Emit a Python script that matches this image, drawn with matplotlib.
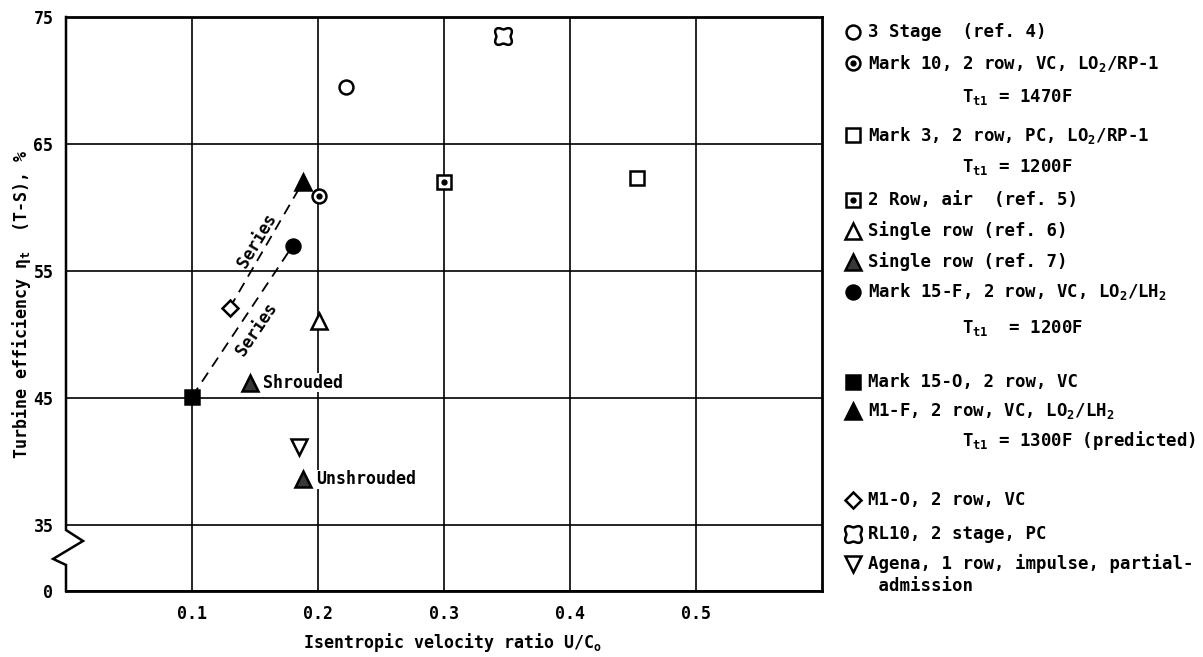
import numpy as np
import matplotlib.pyplot as plt
from matplotlib.path import Path

plt.rcParams['font.family'] = ['DejaVu Sans Mono', 'DejaVu Sans']
plt.rcParams['font.weight'] = 'bold'
plt.rcParams['mathtext.default'] = 'regular'
plt.rcParams['font.size'] = 12

# turbine test points: velocity ratio U/Co and efficiency (T-S), percent
three_stage_x = [0.222]
three_stage_y = [69.5]
mark10_x = [0.201]
mark10_y = [60.9]
mark3_x = [0.453]
mark3_y = [62.3]
two_row_air_x = [0.300]
two_row_air_y = [62.0]
single_row6_x = [0.201]
single_row6_y = [51.1]
single_row7_x = [0.146, 0.188]
single_row7_y = [46.2, 38.6]
single_row7_notes = ['Shrouded', 'Unshrouded']
mark15f_x = [0.180]
mark15f_y = [57.0]
mark15o_x = [0.100]
mark15o_y = [45.1]
m1f_x = [0.188]
m1f_y = [62.0]
m1o_x = [0.130]
m1o_y = [52.1]
rl10_x = [0.347]
rl10_y = [73.5]
agena_x = [0.185]
agena_y = [41.1]

x_ticks = [0.1, 0.2, 0.3, 0.4, 0.5]
y_ticks = [0, 35, 45, 55, 65, 75]

# scalloped marker used for the RL10 point
th = np.linspace(0, 2 * np.pi, 121)
r = 0.84 - 0.16 * np.cos(4 * th)
clover = Path(np.column_stack([r * np.cos(th), r * np.sin(th)]), closed=True)

styles = {
    'three_stage': dict(marker='o', ms=10, mfc='white', dot=False),
    'mark10': dict(marker='o', ms=10, mfc='white', dot=True),
    'mark3': dict(marker='s', ms=10, mfc='white', dot=False),
    'two_row_air': dict(marker='s', ms=10, mfc='white', dot=True),
    'single_row6': dict(marker='^', ms=11, mfc='white', dot=False),
    'single_row7': dict(marker='^', ms=11, mfc='#383838', dot=False),
    'mark15f': dict(marker='o', ms=10, mfc='black', dot=False),
    'mark15o': dict(marker='s', ms=10, mfc='black', dot=False),
    'm1f': dict(marker='^', ms=12, mfc='black', dot=False),
    'm1o': dict(marker='D', ms=8.5, mfc='white', dot=False),
    'rl10': dict(marker=clover, ms=12, mfc='white', dot=False),
    'agena': dict(marker='v', ms=11, mfc='white', dot=False),
}


def draw_points(axis, xs, ys, key):
    st = styles[key]
    axis.plot(xs, ys, ls='none', marker=st['marker'], ms=st['ms'],
              mfc=st['mfc'], mec='black', mew=1.8, zorder=5, clip_on=False)
    if st['dot']:
        axis.plot(xs, ys, ls='none', marker='o', ms=3.5, mfc='black',
                  mec='black', zorder=6, clip_on=False)


# broken axis: 0..35 squeezed into a short strip under the 35 line
def fwd(y):
    y = np.asarray(y, dtype=float)
    return np.where(y >= 35, y, 35 - (35 - y) * 0.1486)


def inv(v):
    v = np.asarray(v, dtype=float)
    return np.where(v >= 35, v, 35 - (35 - v) / 0.1486)


fig = plt.figure(figsize=(12.03, 6.57), dpi=100)
ax = fig.add_axes([66 / 1203, 66 / 657, 756 / 1203, 574 / 657])
ax.set_yscale('function', functions=(fwd, inv))
ax.set_xlim(0, 0.6)
ax.set_ylim(0, 75)
ax.set_xticks(x_ticks)
ax.set_xticklabels(['%.1f' % v for v in x_ticks])
ax.set_yticks(y_ticks)
ax.set_yticklabels([str(v) for v in y_ticks])
ax.tick_params(length=0, labelsize=12)
ax.tick_params(axis='x', pad=10)
ax.tick_params(axis='y', pad=9)
ax.grid(True, color='black', lw=1.2)
ax.set_axisbelow(True)
for side in ['top', 'right', 'bottom']:
    ax.spines[side].set_linewidth(2.0)
ax.spines['left'].set_visible(False)

# left edge with the zigzag break symbol
ax.plot([0, 0, 0.0225, -0.017, 0, 0], [75, 32.3, 26.5, 17.0, 13.8, 0],
        color='black', lw=1.8, transform=ax.get_yaxis_transform(),
        clip_on=False, zorder=4, solid_joinstyle='miter')

# dashed "Series" lines from the -O builds to the -F builds
dash = (0, (6, 4))
ax.plot([m1o_x[0], m1f_x[0]], [m1o_y[0], m1f_y[0]], color='black', lw=1.3,
        ls=dash, zorder=3)
ax.plot([mark15o_x[0], mark15f_x[0]], [mark15o_y[0], mark15f_y[0]],
        color='black', lw=1.3, ls=dash, zorder=3)
ax.text(0.152, 57.4, 'Series', rotation=59, ha='center', va='center')
ax.text(0.151, 50.4, 'Series', rotation=56, ha='center', va='center')

draw_points(ax, three_stage_x, three_stage_y, 'three_stage')
draw_points(ax, mark10_x, mark10_y, 'mark10')
draw_points(ax, mark3_x, mark3_y, 'mark3')
draw_points(ax, two_row_air_x, two_row_air_y, 'two_row_air')
draw_points(ax, single_row6_x, single_row6_y, 'single_row6')
draw_points(ax, single_row7_x, single_row7_y, 'single_row7')
draw_points(ax, mark15f_x, mark15f_y, 'mark15f')
draw_points(ax, mark15o_x, mark15o_y, 'mark15o')
draw_points(ax, m1f_x, m1f_y, 'm1f')
draw_points(ax, m1o_x, m1o_y, 'm1o')
draw_points(ax, rl10_x, rl10_y, 'rl10')
draw_points(ax, agena_x, agena_y, 'agena')

for x, y, note in zip(single_row7_x, single_row7_y, single_row7_notes):
    ax.text(x + 0.0105, y, note, ha='left', va='center', zorder=6,
            bbox=dict(fc='white', ec='none', pad=0.5))

fig.text(22 / 1203, 1 - 304 / 657, r'Turbine efficiency η$_t$  (T-S), %',
         rotation=90, ha='center', va='center', fontsize=12)
fig.text(452 / 1203, 1 - 642 / 657, 'Isentropic velocity ratio U/C$_o$',
         ha='center', va='center', fontsize=12)

# key on the right, laid out in figure pixels
lax = fig.add_axes([0, 0, 1, 1], facecolor='none')
lax.set_xlim(0, 1203)
lax.set_ylim(657, 0)
lax.axis('off')

key_rows = [
    (32, 'three_stage', '3 Stage  (ref. 4)'),
    (63, 'mark10', 'Mark 10, 2 row, VC, LO$_2$/RP-1'),
    (97, None, 'T$_{t1}$ = 1470F'),
    (135, 'mark3', 'Mark 3, 2 row, PC, LO$_2$/RP-1'),
    (167, None, 'T$_{t1}$ = 1200F'),
    (200, 'two_row_air', '2 Row, air  (ref. 5)'),
    (231, 'single_row6', 'Single row (ref. 6)'),
    (262, 'single_row7', 'Single row (ref. 7)'),
    (292, 'mark15f', 'Mark 15-F, 2 row, VC, LO$_2$/LH$_2$'),
    (328, None, 'T$_{t1}$  = 1200F'),
    (382, 'mark15o', 'Mark 15-O, 2 row, VC'),
    (411, 'm1f', 'M1-F, 2 row, VC, LO$_2$/LH$_2$'),
    (440, None, 'T$_{t1}$ = 1300F (predicted)'),
    (500, 'm1o', 'M1-O, 2 row, VC'),
    (534, 'rl10', 'RL10, 2 stage, PC'),
    (564, 'agena', 'Agena, 1 row, impulse, partial-'),
    (586, None, ' admission'),
]
for y, key, label in key_rows:
    if key is None:
        x_txt = 868 if label.startswith(' ') else 962
    else:
        draw_points(lax, [853], [y], key)
        x_txt = 868
    lax.text(x_txt, y, label, ha='left', va='center', fontsize=12.5)

fig.savefig('out.png', dpi=100)
